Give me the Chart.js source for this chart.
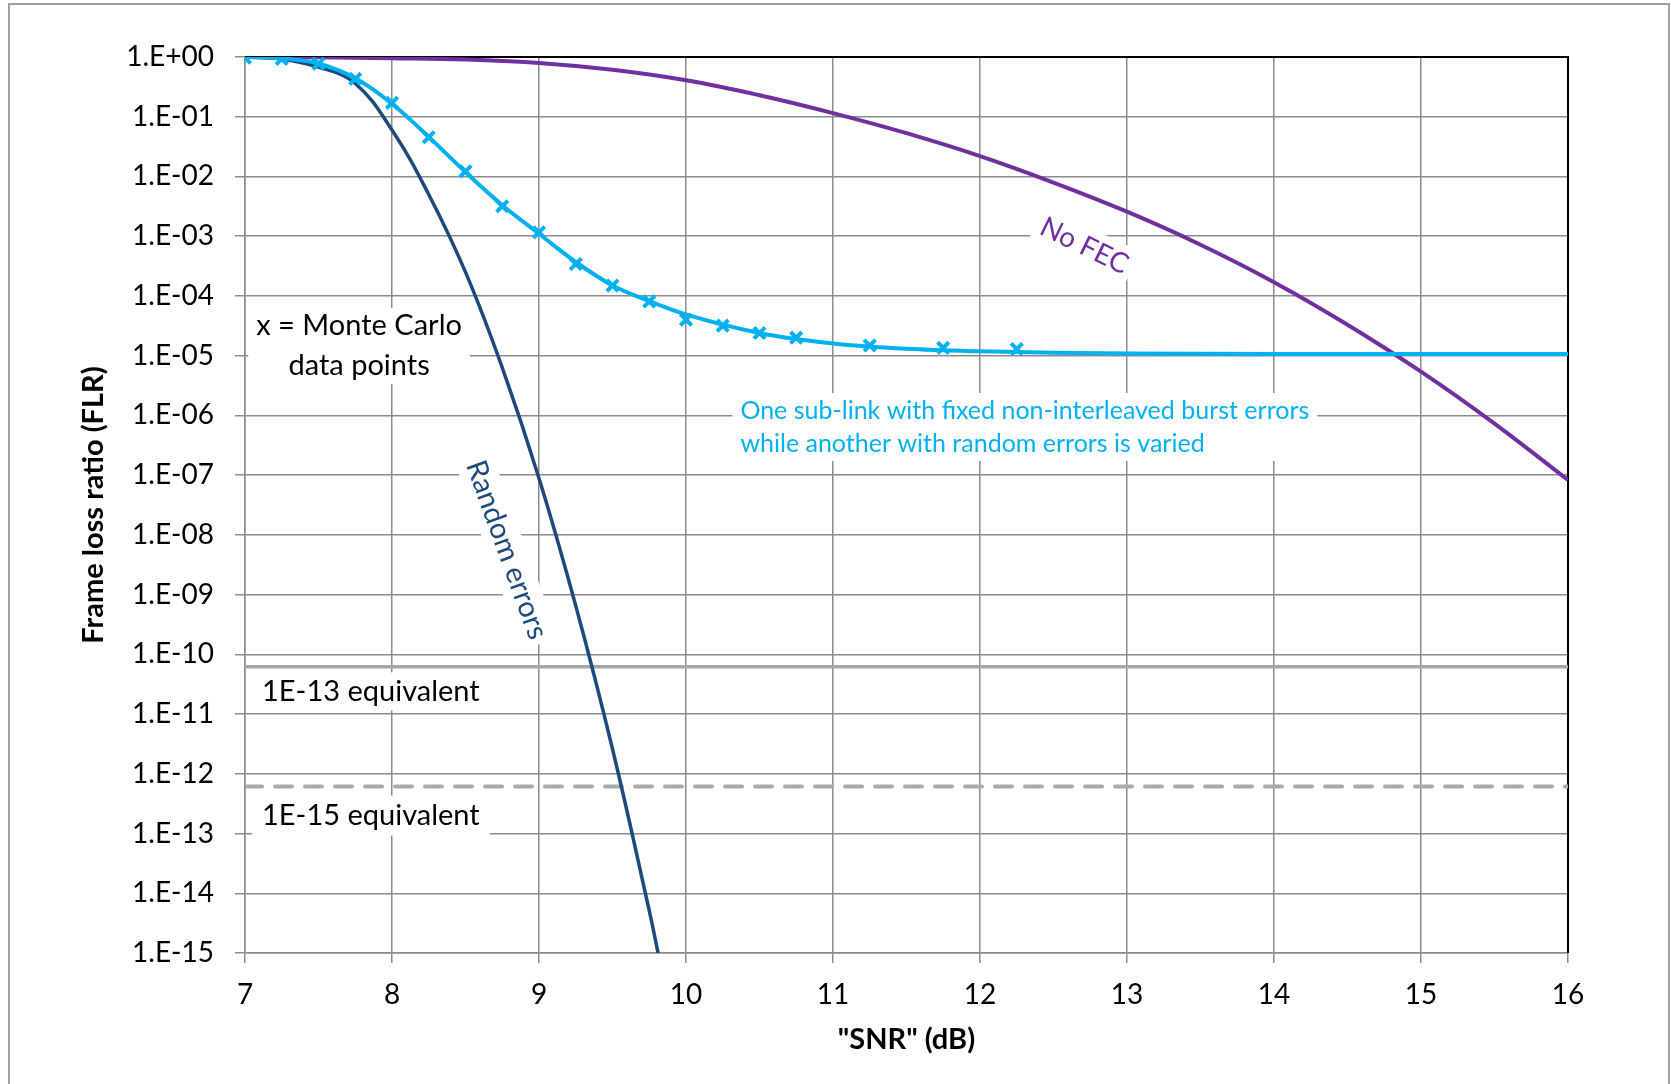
<!DOCTYPE html>
<html>
<head>
<meta charset="utf-8">
<script src="https://cdn.jsdelivr.net/npm/chart.js@4.4.0/dist/chart.umd.min.js"></script>
<style>
  html, body { margin: 0; padding: 0; background: #fff; }
  canvas { display: block; }
</style>
</head>
<body>
<canvas id="flrChart" width="1671" height="1084"></canvas>
<script>
// values
const snrNoFec = [7, 7.5, 8, 8.5, 9, 9.5, 10, 10.5, 11, 11.5, 12, 12.5, 13, 13.5, 14, 14.5, 15, 15.5, 16];
const flrNoFec = [1.0, 0.989, 0.955, 0.904, 0.794, 0.61, 0.407, 0.229, 0.115, 0.053, 0.0219, 7.9e-3, 2.57e-3, 7.2e-4, 1.7e-4, 3.3e-5, 5.4e-6, 7.3e-7, 8.3e-8];

const snrRandom = [7, 7.25, 7.5, 7.75, 8, 8.25, 8.5, 8.75, 9, 9.25, 9.5, 9.75, 9.81];
const flrRandom = [1.0, 0.92, 0.68, 0.36, 0.06, 5.0e-3, 2.5e-4, 6.3e-6, 8.9e-8, 6.5e-10, 2.6e-12, 5.1e-15, 1e-15];

const snrBurst = [7, 7.25, 7.5, 7.75, 8, 8.25, 8.5, 8.75, 9, 9.25, 9.5, 9.75, 10, 10.5, 11, 11.5, 12, 12.5, 13, 14, 16];
const flrBurst = [1.0, 0.95, 0.78, 0.44, 0.165, 0.046, 0.0118, 3.3e-3, 1.1e-3, 3.7e-4, 1.5e-4, 8.2e-5, 4.9e-5, 2.4e-5, 1.6e-5, 1.3e-5, 1.18e-5, 1.12e-5, 1.09e-5, 1.07e-5, 1.07e-5];

const snrMonteCarlo = [7, 7.25, 7.5, 7.75, 8, 8.25, 8.5, 8.75, 9, 9.25, 9.5, 9.75, 10, 10.25, 10.5, 10.75, 11.25, 11.75, 12.25];
const flrMonteCarlo = [0.97, 0.93, 0.77, 0.43, 0.171, 0.0454, 0.0122, 3.17e-3, 1.16e-3, 3.43e-4, 1.49e-4, 8.1e-5, 4.0e-5, 3.18e-5, 2.4e-5, 2.0e-5, 1.48e-5, 1.35e-5, 1.29e-5];

const snrRange = [7, 16];
const flrEquiv13 = [6.2e-11, 6.2e-11];
const flrEquiv15 = [6.1e-13, 6.1e-13];

const xTicks = [7, 8, 9, 10, 11, 12, 13, 14, 15, 16];
const yTickValues = [1, 1e-1, 1e-2, 1e-3, 1e-4, 1e-5, 1e-6, 1e-7, 1e-8, 1e-9, 1e-10, 1e-11, 1e-12, 1e-13, 1e-14, 1e-15];
const yTickLabels = ['1.E+00', '1.E-01', '1.E-02', '1.E-03', '1.E-04', '1.E-05', '1.E-06', '1.E-07',
                     '1.E-08', '1.E-09', '1.E-10', '1.E-11', '1.E-12', '1.E-13', '1.E-14', '1.E-15'];

const FONT = 'Lato, "Open Sans", sans-serif';
const GRID = '#8c8c8c';

const pts = (xs, ys) => xs.map((x, i) => ({ x: x, y: ys[i] }));

// text notes placed in data coordinates
const notes = [
  { lines: ['x = Monte Carlo', 'data points'], x: 7.776, y: 1.46e-5, size: 29, lh: 40, color: '#000', align: 'center', angle: 0, padX: 8, padY: -2 },
  { lines: ['Random errors'], x: 8.78, y: 5.6e-9, size: 29, lh: 34, color: '#1F497D', align: 'center', angle: 70, padX: 6, padY: 2 },
  { lines: ['No FEC'], x: 12.71, y: 6.9e-4, size: 28, lh: 34, color: '#7030A0', align: 'center', angle: 26, padX: 6, padY: 2 },
  { lines: ['One sub-link with fixed non-interleaved burst errors', 'while another with random errors is varied'], x: 10.37, y: 6.4e-7, size: 25, lh: 33, color: '#00B0F0', align: 'left', angle: 0, padX: 8, padY: 1 },
  { lines: ['1E-13 equivalent'], x: 7.116, y: 2.4e-11, size: 29, lh: 36, color: '#000', align: 'left', angle: 0, padX: 10, padY: 1 },
  { lines: ['1E-15 equivalent'], x: 7.116, y: 2.0e-13, size: 29, lh: 38, color: '#000', align: 'left', angle: 0, padX: 10, padY: 1 }
];

const notesPlugin = {
  id: 'notes',
  beforeDraw(chart) {
    const ctx = chart.ctx;
    ctx.save();
    ctx.strokeStyle = '#a0a0a0';
    ctx.lineWidth = 2;
    ctx.strokeRect(9, 4, 1660, 1100);
    ctx.restore();
  },
  beforeDatasetsDraw(chart) {
    const ctx = chart.ctx;
    const area = chart.chartArea;
    const xs = chart.scales.x, ys = chart.scales.y;
    ctx.save();
    // top and right frame of the plot area
    ctx.strokeStyle = '#000';
    ctx.lineWidth = 2;
    ctx.beginPath();
    ctx.moveTo(area.left, area.top);
    ctx.lineTo(area.right, area.top);
    ctx.lineTo(area.right, area.bottom);
    ctx.stroke();

    notes.forEach(n => {
      ctx.font = n.size + 'px ' + FONT;
      const w = Math.max(...n.lines.map(l => ctx.measureText(l).width));
      const h = n.lines.length * n.lh;
      const px = xs.getPixelForValue(n.x);
      const py = ys.getPixelForValue(n.y);
      ctx.save();
      ctx.translate(px, py);
      ctx.rotate(n.angle * Math.PI / 180);
      const left = n.align === 'center' ? -w / 2 : 0;
      ctx.fillStyle = '#fff';
      ctx.fillRect(left - n.padX, -h / 2 - n.padY, w + 2 * n.padX, h + 2 * n.padY);
      ctx.fillStyle = n.color;
      ctx.textAlign = n.align;
      ctx.textBaseline = 'middle';
      n.lines.forEach((l, i) => {
        ctx.fillText(l, 0, -h / 2 + n.lh * (i + 0.5));
      });
      ctx.restore();
    });
    ctx.restore();
  }
};

new Chart(document.getElementById('flrChart').getContext('2d'), {
  type: 'line',
  data: {
    datasets: [
      {
        label: 'Monte Carlo',
        data: pts(snrMonteCarlo, flrMonteCarlo),
        showLine: false,
        pointStyle: 'crossRot',
        pointRadius: 8,
        pointBorderWidth: 4,
        borderColor: '#00B0F0',
        backgroundColor: '#00B0F0'
      },
      {
        label: 'Burst + random',
        data: pts(snrBurst, flrBurst),
        borderColor: '#00B0F0',
        borderWidth: 4,
        pointRadius: 0,
        cubicInterpolationMode: 'monotone'
      },
      {
        label: 'Random errors',
        data: pts(snrRandom, flrRandom),
        borderColor: '#1F497D',
        borderWidth: 3.5,
        pointRadius: 0,
        tension: 0.4
      },
      {
        label: 'No FEC',
        data: pts(snrNoFec, flrNoFec),
        borderColor: '#7030A0',
        borderWidth: 4,
        pointRadius: 0,
        tension: 0.4
      },
      {
        label: '1E-13 equivalent',
        data: pts(snrRange, flrEquiv13),
        borderColor: '#a6a6a6',
        borderWidth: 3.5,
        pointRadius: 0
      },
      {
        label: '1E-15 equivalent',
        data: pts(snrRange, flrEquiv15),
        borderColor: '#aaaaaa',
        borderWidth: 4,
        borderDash: [17, 13],
        borderCapStyle: 'round',
        pointRadius: 0
      }
    ]
  },
  options: {
    responsive: false,
    animation: false,
    layout: { padding: { top: 57, right: 103, bottom: 0, left: 0 } },
    plugins: { legend: { display: false }, tooltip: { enabled: false } },
    scales: {
      x: {
        type: 'linear',
        min: 7,
        max: 16,
        afterBuildTicks: s => { s.ticks = xTicks.map(v => ({ value: v })); },
        afterFit: s => { s.height = 131; },
        grid: { color: GRID, lineWidth: 1.5, tickLength: 10 },
        border: { color: GRID, width: 1.5 },
        ticks: { font: { family: FONT, size: 28 }, color: '#000', padding: 15 },
        title: {
          display: true,
          text: '"SNR" (dB)',
          color: '#000',
          font: { family: FONT, size: 29, weight: 'bold' },
          padding: { top: 0, bottom: 27 }
        }
      },
      y: {
        type: 'logarithmic',
        min: 1e-15,
        max: 1,
        afterBuildTicks: s => { s.ticks = yTickValues.map(v => ({ value: v })); },
        afterFit: s => { s.width = 245; },
        grid: { color: GRID, lineWidth: 1.5, tickLength: 10 },
        border: { color: GRID, width: 1.5 },
        ticks: {
          font: { family: FONT, size: 28 },
          color: '#000',
          padding: 21,
          autoSkip: false,
          callback: (v, i) => yTickLabels[i]
        },
        title: {
          display: true,
          text: 'Frame loss ratio (FLR)',
          color: '#000',
          font: { family: FONT, size: 29, weight: 'bold' },
          padding: { top: 76, bottom: 0 }
        }
      }
    }
  },
  plugins: [notesPlugin]
});
</script>
</body>
</html>
